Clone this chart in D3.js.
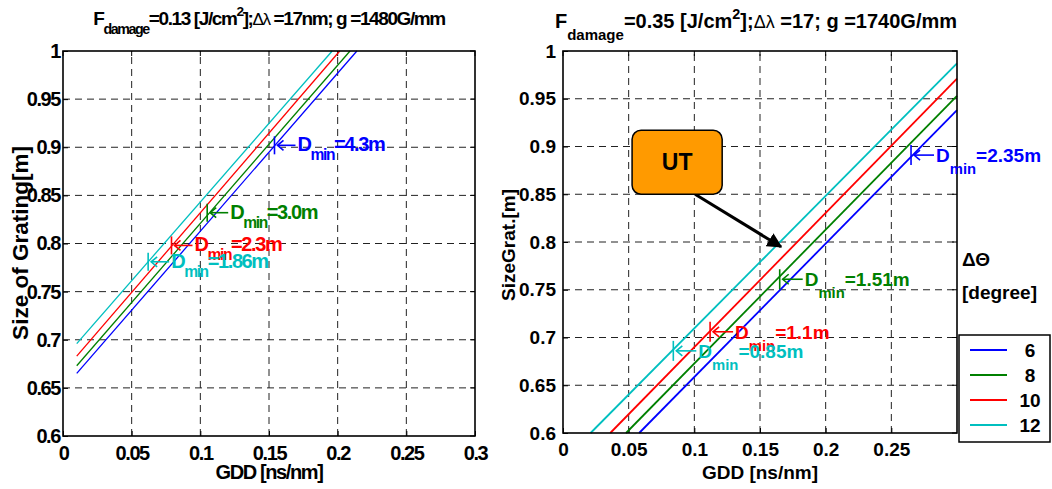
<!DOCTYPE html>
<html>
<head>
<meta charset="utf-8">
<script src="https://cdn.jsdelivr.net/npm/d3@7"></script>
<style>
  body { margin: 0; background: #fff; }
  svg text { font-family: "Liberation Sans", Arial, sans-serif; font-weight: bold; fill: #000; }
</style>
</head>
<body>
<div id="chart"></div>
<script>
/* ============================================================
   Grating size vs GDD, two grating designs
   ============================================================ */

// --- Data ---
const THETA_DEG = [6, 8, 10, 12];
const LINE_COLORS = ['#0000ff', '#008000', '#ff0000', '#00bfbf'];
const GDD_TICKS = [0, 0.05, 0.1, 0.15, 0.2, 0.25, 0.3];
const SIZE_TICKS = [0.6, 0.65, 0.7, 0.75, 0.8, 0.85, 0.9, 0.95, 1];

// left: g = 1480 G/mm
const LEFT_GDD = [[0.01, 0.214], [0.01, 0.209], [0.01, 0.2015], [0.01, 0.196]];
const LEFT_SIZE = [[0.665, 1], [0.673, 1], [0.683, 1], [0.696, 1]];
const LEFT_DMIN_GDD = [0.154, 0.105, 0.079, 0.062];
const LEFT_DMIN_SIZE = [0.902, 0.832, 0.798, 0.781];
const LEFT_DMIN_TEXT = ['4.3', '3.0', '2.3', '1.86'];
const LEFT_XLABELS = [0, 0.05, 0.1, 0.15, 0.2, 0.25, 0.3];

// right: g = 1740 G/mm
const RIGHT_GDD = [[0.058, 0.3], [0.048, 0.3], [0.036, 0.3], [0.021, 0.3]];
const RIGHT_SIZE = [[0.6, 0.938], [0.6, 0.953], [0.6, 0.971], [0.6, 0.987]];
const RIGHT_DMIN_GDD = [0.265, 0.165, 0.112, 0.084];
const RIGHT_DMIN_SIZE = [0.891, 0.761, 0.706, 0.686];
const RIGHT_DMIN_TEXT = ['2.35', '1.51', '1.1', '0.85'];
const RIGHT_XLABELS = [0, 0.05, 0.1, 0.15, 0.2, 0.25];

// UT callout (data coords)
const UT_BOX_GDD = [0.0526, 0.1212];
const UT_BOX_SIZE = [0.917, 0.850];
const UT_ARROW_GDD = [0.1006, 0.166];
const UT_ARROW_SIZE = [0.850, 0.795];

const W = 1052, H = 489;

const svg = d3.select('#chart').append('svg')
    .attr('width', W).attr('height', H);

const defs = svg.append('defs');
defs.append('marker').attr('id', 'ahead')
    .attr('viewBox', '0 0 10 10').attr('refX', 9).attr('refY', 5)
    .attr('markerWidth', 5).attr('markerHeight', 5).attr('orient', 'auto')
    .append('path').attr('d', 'M0,0 L10,5 L0,10 z').attr('fill', '#000');

function fmt(d) { return String(d); }

function drawPanel(cfg) {
    const x = d3.scaleLinear().domain([0, 0.3]).range([cfg.x0, cfg.x1]);
    const y = d3.scaleLinear().domain([0.6, 1]).range([cfg.y0, cfg.y1]);
    const g = svg.append('g');
    const ls = cfg.ls;

    // grid (dashed)
    GDD_TICKS.slice(1, -1).forEach(t => {
        g.append('line').attr('x1', x(t)).attr('x2', x(t)).attr('y1', y(0.6)).attr('y2', y(1))
            .attr('stroke', '#222').attr('stroke-width', 1).attr('stroke-dasharray', '7,5');
    });
    SIZE_TICKS.slice(1, -1).forEach(t => {
        g.append('line').attr('x1', x(0)).attr('x2', x(0.3)).attr('y1', y(t)).attr('y2', y(t))
            .attr('stroke', '#222').attr('stroke-width', 1).attr('stroke-dasharray', '7,5');
    });

    // axes
    const xa = g.append('g').attr('transform', `translate(0,${y(0.6)})`)
        .call(d3.axisBottom(x).tickValues(cfg.xlabels).tickFormat(fmt).tickSizeInner(-5).tickSizeOuter(0).tickPadding(10));
    const ya = g.append('g').attr('transform', `translate(${x(0)},0)`)
        .call(d3.axisLeft(y).tickValues(SIZE_TICKS).tickFormat(fmt).tickSizeInner(-5).tickSizeOuter(0).tickPadding(cfg.ypad));
    [xa, ya].forEach(a => {
        a.select('.domain').remove();
        a.selectAll('.tick line').attr('stroke', '#000');
        a.selectAll('text').attr('font-size', cfg.fs).attr('letter-spacing', ls)
            .style('font-family', '"Liberation Sans", Arial, sans-serif').style('font-weight', 'bold').attr('fill', '#000');
    });
    xa.selectAll('text').attr('dy', '0.71em');

    // top / right ticks
    cfg.xlabels.forEach(t => g.append('line').attr('x1', x(t)).attr('x2', x(t))
        .attr('y1', y(1)).attr('y2', y(1) + 5).attr('stroke', '#000'));
    SIZE_TICKS.forEach(t => g.append('line').attr('x1', x(0.3)).attr('x2', x(0.3) - 5)
        .attr('y1', y(t)).attr('y2', y(t)).attr('stroke', '#000'));

    // curves
    const line = d3.line().x(d => x(d[0])).y(d => y(d[1]));
    cfg.gdd.forEach((gx, i) => {
        const pts = gx.map((v, k) => [v, cfg.size[i][k]]);
        g.append('path').datum(pts).attr('d', line).attr('fill', 'none')
            .attr('stroke', LINE_COLORS[i]).attr('stroke-width', cfg.lw);
    });

    // frame
    g.append('rect').attr('x', x(0)).attr('y', y(1))
        .attr('width', x(0.3) - x(0)).attr('height', y(0.6) - y(1))
        .attr('fill', 'none').attr('stroke', '#000').attr('stroke-width', 1.6);

    // D_min markers
    cfg.dminGdd.forEach((dx, i) => {
        const px = x(dx), py = y(cfg.dminSize[i]);
        const c = LINE_COLORS[i];
        g.append('line').attr('x1', px).attr('x2', px).attr('y1', py - cfg.mk).attr('y2', py + cfg.mk)
            .attr('stroke', c).attr('stroke-width', 1.6);
        g.append('line').attr('x1', px + 3).attr('x2', px + cfg.arr).attr('y1', py).attr('y2', py)
            .attr('stroke', c).attr('stroke-width', 1.6);
        g.append('path').attr('d', `M${px + 9},${py - 5} L${px + 3},${py} L${px + 9},${py + 5}`)
            .attr('fill', 'none').attr('stroke', c).attr('stroke-width', 1.6);
        const t = g.append('text').attr('x', px + cfg.arr + 2).attr('y', py + cfg.base)
            .attr('font-size', cfg.lfs).attr('letter-spacing', ls).attr('fill', c).style('fill', c);
        t.append('tspan').text('D');
        t.append('tspan').attr('dy', cfg.sub).attr('font-size', cfg.lfs * 0.78).text('min');
        t.append('tspan').attr('dy', -cfg.sub).text('=' + cfg.dminText[i] + 'm');
    });

    // title
    const cx = (cfg.x0 + cfg.x1) / 2;
    const tt = svg.append('text').attr('x', cx + cfg.tdx).attr('y', cfg.ty).attr('text-anchor', 'middle')
        .attr('font-size', cfg.tfs).attr('letter-spacing', ls);
    tt.append('tspan').text('F');
    tt.append('tspan').attr('dy', cfg.tsub).attr('font-size', cfg.tfs * 0.75).text('damage');
    tt.append('tspan').attr('dy', -cfg.tsub).text(cfg.t1);
    tt.append('tspan').attr('dy', -9).attr('font-size', cfg.tfs * 0.72).text('2');
    tt.append('tspan').attr('dy', 9).text('];');
    tt.append('tspan').attr('font-size', cfg.tfs * 0.9).style('font-weight', 'normal').text('Δλ');
    tt.append('tspan').text(cfg.t2);

    // axis labels
    svg.append('text').attr('x', cx).attr('y', 479).attr('text-anchor', 'middle')
        .attr('font-size', cfg.fs).attr('letter-spacing', ls).text('GDD [ns/nm]');
    svg.append('text').attr('transform', `translate(${cfg.ylx},${cfg.yly}) rotate(-90)`)
        .attr('text-anchor', 'middle').attr('font-size', cfg.yfs).text(cfg.ylabel);

    return { x, y };
}

drawPanel({
    x0: 63, x1: 475, y0: 436, y1: 51, ls: -1.4, fs: 20, ypad: 3, lw: 1.3,
    xlabels: LEFT_XLABELS, gdd: LEFT_GDD, size: LEFT_SIZE,
    dminGdd: LEFT_DMIN_GDD, dminSize: LEFT_DMIN_SIZE, dminText: LEFT_DMIN_TEXT,
    mk: 9, arr: 21, base: 6, sub: 9, lfs: 20,
    tfs: 19, ty: 25, tsub: 9, tdx: 0,
    t1: '=0.13 [J/cm', t2: ' =17nm; g =1480G/mm',
    ylabel: 'Size of Grating[m]', ylx: 28, yly: 243, yfs: 22.5
});

const right = drawPanel({
    x0: 563, x1: 957, y0: 433, y1: 51, ls: 0, fs: 19, ypad: 7, lw: 1.8,
    xlabels: RIGHT_XLABELS, gdd: RIGHT_GDD, size: RIGHT_SIZE,
    dminGdd: RIGHT_DMIN_GDD, dminSize: RIGHT_DMIN_SIZE, dminText: RIGHT_DMIN_TEXT,
    mk: 10, arr: 23, base: 7, sub: 12, lfs: 19,
    tfs: 20, ty: 28, tsub: 12, tdx: -4,
    t1: '=0.35 [J/cm', t2: ' =17; g =1740G/mm',
    ylabel: 'SizeGrat.[m]', ylx: 515, yly: 245, yfs: 19
});

// UT callout
const bx0 = right.x(UT_BOX_GDD[0]), bx1 = right.x(UT_BOX_GDD[1]);
const by0 = right.y(UT_BOX_SIZE[0]), by1 = right.y(UT_BOX_SIZE[1]);
svg.append('line')
    .attr('x1', right.x(UT_ARROW_GDD[0])).attr('y1', right.y(UT_ARROW_SIZE[0]))
    .attr('x2', right.x(UT_ARROW_GDD[1])).attr('y2', right.y(UT_ARROW_SIZE[1]))
    .attr('stroke', '#000').attr('stroke-width', 3).attr('marker-end', 'url(#ahead)');
svg.append('rect').attr('x', bx0).attr('y', by0).attr('width', bx1 - bx0).attr('height', by1 - by0)
    .attr('rx', 9).attr('fill', '#ff9a00').attr('stroke', '#000').attr('stroke-width', 1.5);
svg.append('text').attr('x', (bx0 + bx1) / 2).attr('y', (by0 + by1) / 2 + 8)
    .attr('text-anchor', 'middle').attr('font-size', 23).text('UT');

// Legend
svg.append('text').attr('x', 962).attr('y', 266).attr('font-size', 19).text('ΔΘ');
svg.append('text').attr('x', 962).attr('y', 299).attr('font-size', 19).text('[degree]');
const lg = svg.append('g').attr('transform', 'translate(959,335)');
lg.append('rect').attr('width', 91).attr('height', 107).attr('fill', '#fff')
    .attr('stroke', '#000').attr('stroke-width', 1.5);
THETA_DEG.forEach((d, i) => {
    const yy = 15 + i * 25;
    lg.append('line').attr('x1', 11).attr('x2', 48).attr('y1', yy).attr('y2', yy)
        .attr('stroke', LINE_COLORS[i]).attr('stroke-width', 2);
    lg.append('text').attr('x', 71).attr('y', yy + 7).attr('text-anchor', 'middle')
        .attr('font-size', 19).text(d);
});
</script>
</body>
</html>
